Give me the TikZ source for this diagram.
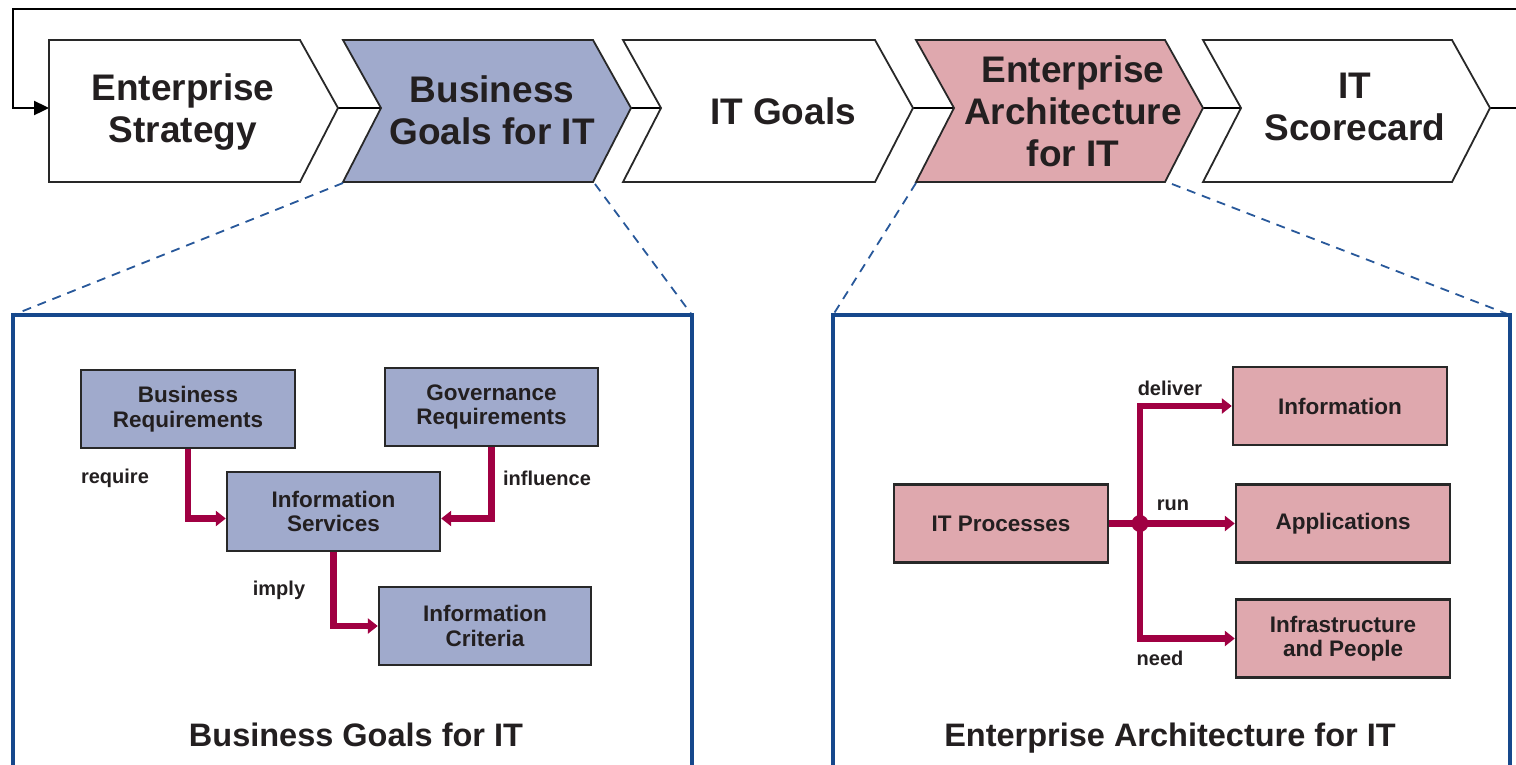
\documentclass[tikz,border=0pt]{standalone}
\usepackage{fontspec}
\setmainfont{Liberation Sans}
\usetikzlibrary{arrows.meta}
\definecolor{bluefill}{RGB}{160,170,204}
\definecolor{pinkfill}{RGB}{223,168,174}
\definecolor{arrowred}{RGB}{160,0,66}
\definecolor{panelblue}{RGB}{22,72,140}
\definecolor{dashblue}{RGB}{40,88,154}
\definecolor{txt}{RGB}{35,31,32}
\definecolor{edge}{RGB}{40,40,40}
\begin{document}
\begin{tikzpicture}[x=1pt,y=-1pt,
  chev/.style={draw=edge,line width=1.8pt,line join=miter},
  ctext/.style={font=\bfseries\fontsize{37}{42}\selectfont,text=txt,align=center,inner sep=0pt},
  bbox/.style={draw=edge,line width=2.4pt,fill=bluefill,font=\bfseries\fontsize{22.5}{24.5}\selectfont,text=txt,align=center,inner sep=0pt,minimum width=214pt,minimum height=78pt},
  pbox/.style={bbox,fill=pinkfill},
  lbl/.style={font=\bfseries\fontsize{20}{22}\selectfont,text=txt,inner sep=0pt},
  arr/.style={draw=arrowred,line width=6.5pt,-{Triangle[length=10pt,width=15pt]}},
  flow/.style={draw=black,line width=2pt},
  zoomline/.style={draw=dashblue,line width=1.8pt,dash pattern=on 9pt off 7pt},
  panel/.style={draw=panelblue,line width=4pt},
  ptitle/.style={font=\bfseries\fontsize{32.5}{36}\selectfont,text=txt,inner sep=0pt,anchor=base}]
\useasboundingbox (0,0) rectangle (1516,764);

% coordinates of the flow
\coordinate (c1w) at (49,108);
\coordinate (tip1) at (338,108);
\coordinate (notch2) at (381,108);
\coordinate (tip2) at (631,108);
\coordinate (notch3) at (661,108);
\coordinate (tip3) at (913,108);
\coordinate (notch4) at (954,108);
\coordinate (tip4) at (1203,108);
\coordinate (notch5) at (1241,108);
\coordinate (tip5) at (1490,108);
\coordinate (flowout) at (1520,108);
\coordinate (loopstart) at (1520,9);
\coordinate (loopcorner) at (13,108);

% feedback loop
\draw[line width=2.4pt,-{Triangle[length=15pt,width=14pt]}] (loopstart) -| (loopcorner) -- (c1w);

% flow segments
\draw[flow] (tip1) -- (notch2);
\draw[flow] (tip2) -- (notch3);
\draw[flow] (tip3) -- (notch4);
\draw[flow] (tip4) -- (notch5);
\draw[flow] (tip5) -- (flowout);

% chevrons
\draw[chev,fill=white] (49,40) -- (300,40) -- (tip1) -- (300,182) -- (49,182) -- cycle;
\draw[chev,fill=bluefill] (343,40) -- (593,40) -- (tip2) -- (593,182) -- (343,182) -- (notch2) -- cycle;
\draw[chev,fill=white] (623,40) -- (875,40) -- (tip3) -- (875,182) -- (623,182) -- (notch3) -- cycle;
\draw[chev,fill=pinkfill] (916,40) -- (1165,40) -- (tip4) -- (1165,182) -- (916,182) -- (notch4) -- cycle;
\draw[chev,fill=white] (1203,40) -- (1452,40) -- (tip5) -- (1452,182) -- (1203,182) -- (notch5) -- cycle;

\node[ctext] (t1) at (183,112) {Enterprise\\Strategy};
\node[ctext] (t2) at (492,110) {Business\\Goals for IT};
\node[ctext] (t3) at (783,111) {IT Goals};
\node[ctext] (t4) at (1073,111) {Enterprise\\Architecture\\for IT};
\node[ctext] (t5) at (1355,107) {IT\\Scorecard};

% zoom lines
\coordinate (bgbl) at (343,183);
\coordinate (bgbr) at (595,184);
\coordinate (eabl) at (916,183);
\coordinate (eabr) at (1172,184);
\coordinate (lp1) at (13,315);
\coordinate (lp2) at (692,315);
\coordinate (rp1) at (833,315);
\coordinate (rp2) at (1510,315);
\coordinate (lp1b) at (13,775);
\coordinate (lp2b) at (692,775);
\coordinate (rp1b) at (833,775);
\coordinate (rp2b) at (1510,775);
\draw[zoomline] (bgbl) -- (lp1);
\draw[zoomline] (bgbr) -- (lp2);
\draw[zoomline] (eabl) -- (rp1);
\draw[zoomline] (eabr) -- (rp2);

% panels
\draw[panel] (lp1b) -- (lp1) -- (lp2) -- (lp2b);
\draw[panel] (rp1b) -- (rp1) -- (rp2) -- (rp2b);

% left panel
\node[bbox] (br) at (188,409) {Business\\Requirements};
\node[bbox,minimum width=213pt] (gr) at (491.5,407) {Governance\\Requirements};
\node[bbox,minimum width=213pt,minimum height=79pt] (is) at (333.5,511.5) {Information\\Services};
\node[bbox,minimum width=212pt] (ic) at (485,626) {Information\\Criteria};
\draw[arr] (br.south) |- ([yshift=-7pt]is.west);
\draw[arr] (gr.south) |- ([yshift=-7pt]is.east);
\draw[arr] (is.south) |- (ic.west);
\node[lbl] (l1) at (115,478) {require};
\node[lbl] (l2) at (547,478) {influence};
\node[lbl] (l3) at (279,590) {imply};
\node[ptitle] (pt1) at (356,746) {Business Goals for IT};

% right panel
\node[pbox] (itp) at (1001,523.5) {IT Processes};
\node[pbox] (inf) at (1340,406) {Information};
\node[pbox] (app) at (1343,523.5) {Applications};
\node[pbox] (ifp) at (1343,638.5) {Infrastructure\\and People};
\node[circle,fill=arrowred,inner sep=0pt,minimum size=17pt] (j) at (1140,523.5) {};
\draw[draw=arrowred,line width=6.5pt] (itp.east) -- (j.center);
\draw[arr] (j.center) |- (inf.west);
\draw[arr] (j.center) -- (app.west);
\draw[arr] (j.center) |- (ifp.west);
\node[lbl] (l4) at (1170,388) {deliver};
\node[lbl] (l5) at (1173,505) {run};
\node[lbl] (l6) at (1160,658) {need};
\node[ptitle] (pt2) at (1170,746) {Enterprise Architecture for IT};
\end{tikzpicture}
\end{document}
